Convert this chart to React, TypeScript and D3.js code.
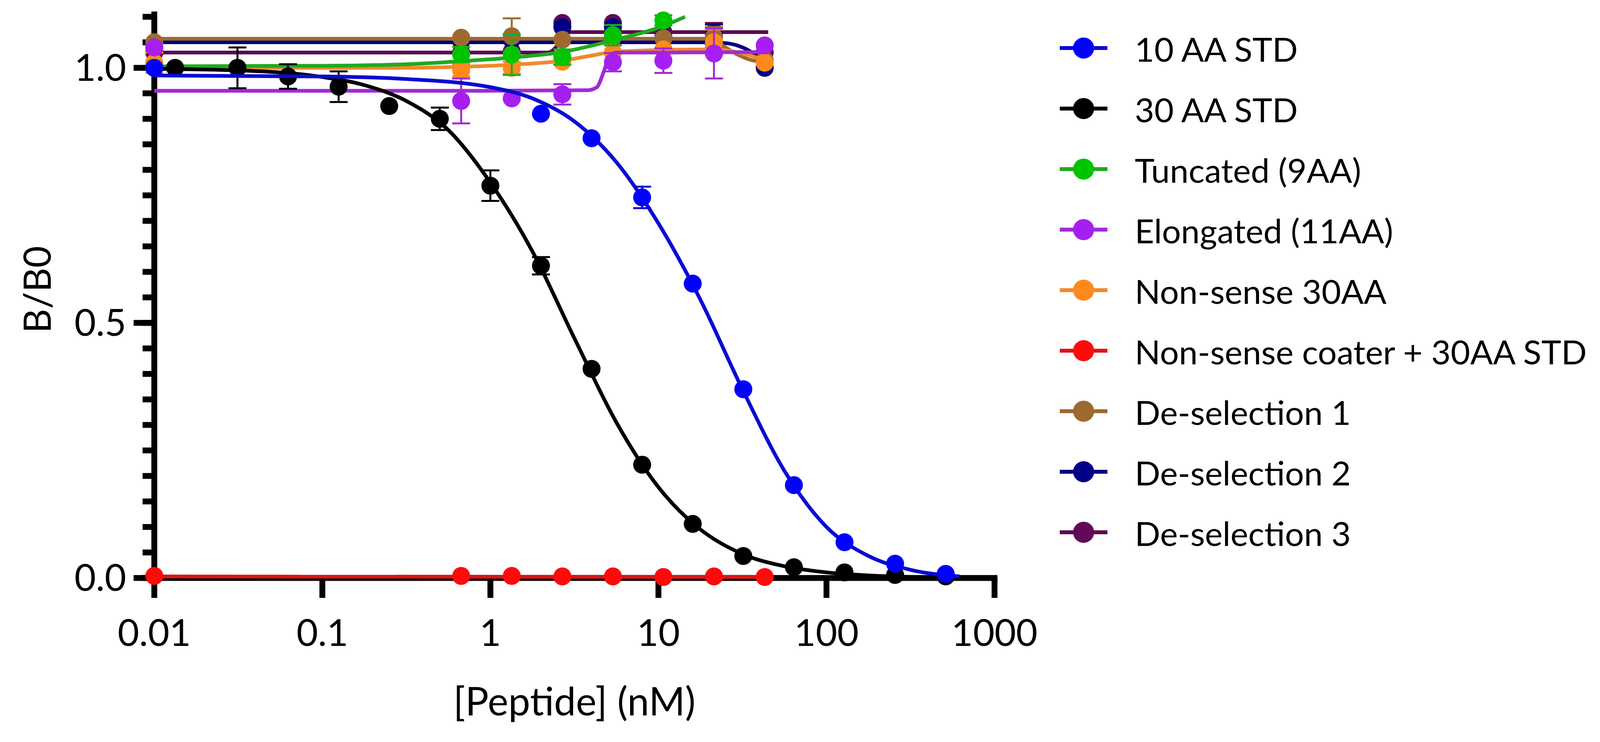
import React from "react";
import * as d3 from "d3";

// ---- data ----
const SERIES_NAMES = [
  "10 AA STD",
  "30 AA STD",
  "Tuncated (9AA)",
  "Elongated (11AA)",
  "Non-sense 30AA",
  "Non-sense coater + 30AA STD",
  "De-selection 1",
  "De-selection 2",
  "De-selection 3",
];
const MARKER_COLORS = ["#0000ff", "#000000", "#00c400", "#a61ff0", "#ff8a1c", "#ff0a0a", "#9c6a30", "#000085", "#620a58"];
const LINE_COLORS = ["#0a0ad2", "#000000", "#1faa1f", "#a12bd6", "#f08a2c", "#dc1414", "#9c6a30", "#00007a", "#5a0a50"];

const X_TICKS = [0.01, 0.1, 1, 10, 100, 1000];
const X_TICK_LABELS = ["0.01", "0.1", "1", "10", "100", "1000"];
const Y_TICKS = [0, 0.5, 1.0];
const Y_TICK_LABELS = ["0.0", "0.5", "1.0"];

// 10 AA STD
const STD10_X = [0.01, 2, 4, 8, 16, 32, 64, 128, 256, 512];
const STD10_Y = [1.0, 0.91, 0.862, 0.746, 0.577, 0.37, 0.182, 0.07, 0.028, 0.008];
const STD10_ERR = [0, 0, 0, 0.021, 0, 0, 0, 0, 0, 0];
const STD10_FIT_X = [0.01, 0.1, 0.316, 1, 1.78, 3.16, 5.62, 10, 17.8, 31.6, 56.2, 100, 178, 316, 620];
const STD10_FIT_Y = [0.985, 0.983, 0.978, 0.962, 0.94, 0.895, 0.815, 0.695, 0.545, 0.37, 0.21, 0.1, 0.043, 0.016, 0.003];

// 30 AA STD
const STD30_X = [0.0133, 0.03125, 0.0625, 0.125, 0.25, 0.5, 1, 2, 4, 8, 16, 32, 64, 128, 256, 512];
const STD30_Y = [1.0, 1.0, 0.983, 0.963, 0.925, 0.9, 0.769, 0.612, 0.41, 0.222, 0.106, 0.043, 0.021, 0.011, 0.006, 0.003];
const STD30_ERR = [0, 0.04, 0.024, 0.03, 0, 0.022, 0.03, 0.017, 0, 0, 0, 0, 0, 0, 0, 0];
const STD30_FIT_X = [0.01, 0.0316, 0.1, 0.178, 0.316, 0.562, 1, 1.78, 3.16, 5.62, 10, 17.8, 31.6, 56.2, 100, 178, 316, 512];
const STD30_FIT_Y = [0.998, 0.995, 0.982, 0.966, 0.935, 0.878, 0.775, 0.64, 0.47, 0.305, 0.178, 0.095, 0.047, 0.023, 0.011, 0.005, 0.002, 0.001];

// shared dilution series of the specificity samples
const PANEL_X = [0.01, 0.67, 1.34, 2.68, 5.36, 10.7, 21.4, 42.9];

const TRUNC_X = [0.01, 0.67, 1.34, 2.68, 5.36, 10.7];
const TRUNC_Y = [1.0, 1.026, 1.026, 1.021, 1.064, 1.093];
const TRUNC_ERR = [0, 0.015, 0.04, 0.015, 0.02, 0.01];
const TRUNC_FIT_X = [0.01, 0.1, 0.316, 0.67, 1.34, 2.68, 5.36, 10.7, 14.4];
const TRUNC_FIT_Y = [1.003, 1.004, 1.007, 1.013, 1.02, 1.031, 1.054, 1.082, 1.1];

const ELONG_Y = [1.04, 0.935, 0.94, 0.948, 1.011, 1.014, 1.028, 1.044];
const ELONG_ERR = [0, 0.044, 0, 0.02, 0.018, 0.024, 0.049, 0];
const ELONG_FIT_X = [0.01, 1, 3.8, 4.3, 4.7, 5.1, 5.6, 10.7, 42.9];
const ELONG_FIT_Y = [0.955, 0.955, 0.956, 0.962, 0.99, 1.022, 1.03, 1.03, 1.031];

const NONSENSE_Y = [1.01, 0.995, 1.0, 1.012, 1.03, 1.036, 1.05, 1.01];
const NONSENSE_ERR = [0.02, 0.012, 0.012, 0, 0, 0, 0.025, 0];
const NONSENSE_FIT_X = [0.01, 0.316, 0.67, 1.34, 2.68, 4, 5.36, 10.7, 21.4, 30, 42.9];
const NONSENSE_FIT_Y = [1.0, 1.0, 1.002, 1.006, 1.014, 1.024, 1.031, 1.035, 1.036, 1.03, 1.015];

const COATER_Y = [0.004, 0.004, 0.004, 0.003, 0.003, 0.002, 0.003, 0.002];
const COATER_ERR = [0, 0, 0, 0, 0, 0, 0, 0];
const COATER_FIT_X = [0.01, 42.9];
const COATER_FIT_Y = [0.003, 0.002];

const DESEL1_Y = [1.05, 1.059, 1.062, 1.055, 1.06, 1.058, 1.06, 1.015];
const DESEL1_ERR = [0, 0, 0.035, 0, 0, 0, 0.02, 0];
const DESEL1_FIT_X = [0.01, 19, 22, 25, 30, 37, 42.9];
const DESEL1_FIT_Y = [1.057, 1.057, 1.052, 1.04, 1.025, 1.014, 1.012];

const DESEL2_Y = [1.04, 1.052, 1.055, 1.08, 1.08, 1.06, 1.065, 1.0];
const DESEL2_ERR = [0, 0, 0, 0, 0, 0, 0.02, 0];
const DESEL2_FIT_X = [0.01, 20, 24, 30, 36, 42.9];
const DESEL2_FIT_Y = [1.05, 1.05, 1.049, 1.043, 1.03, 1.005];

const DESEL3_Y = [1.03, 1.03, 1.032, 1.088, 1.088, 1.07, 1.07, 1.03];
const DESEL3_ERR = [0, 0, 0, 0, 0, 0, 0.018, 0];
const DESEL3_FIT_X = [0.01, 2.2, 2.45, 2.7, 3.0, 45];
const DESEL3_FIT_Y = [1.03, 1.03, 1.04, 1.062, 1.07, 1.07];

type Pt = { x: number; y: number; err: number };

const zipPts = (xs: number[], ys: number[], errs: number[]): Pt[] =>
  ys.map((y, i) => ({ x: xs[i], y, err: errs[i] }));
const zipFit = (xs: number[], ys: number[]): [number, number][] => xs.map((x, i) => [x, ys[i]]);

const SERIES = [
  { points: zipPts(STD10_X, STD10_Y, STD10_ERR), fit: zipFit(STD10_FIT_X, STD10_FIT_Y) },
  { points: zipPts(STD30_X, STD30_Y, STD30_ERR), fit: zipFit(STD30_FIT_X, STD30_FIT_Y) },
  { points: zipPts(TRUNC_X, TRUNC_Y, TRUNC_ERR), fit: zipFit(TRUNC_FIT_X, TRUNC_FIT_Y) },
  { points: zipPts(PANEL_X, ELONG_Y, ELONG_ERR), fit: zipFit(ELONG_FIT_X, ELONG_FIT_Y) },
  { points: zipPts(PANEL_X, NONSENSE_Y, NONSENSE_ERR), fit: zipFit(NONSENSE_FIT_X, NONSENSE_FIT_Y) },
  { points: zipPts(PANEL_X, COATER_Y, COATER_ERR), fit: zipFit(COATER_FIT_X, COATER_FIT_Y) },
  { points: zipPts(PANEL_X, DESEL1_Y, DESEL1_ERR), fit: zipFit(DESEL1_FIT_X, DESEL1_FIT_Y) },
  { points: zipPts(PANEL_X, DESEL2_Y, DESEL2_ERR), fit: zipFit(DESEL2_FIT_X, DESEL2_FIT_Y) },
  { points: zipPts(PANEL_X, DESEL3_Y, DESEL3_ERR), fit: zipFit(DESEL3_FIT_X, DESEL3_FIT_Y) },
].map((s, i) => ({ ...s, name: SERIES_NAMES[i], color: MARKER_COLORS[i], lineColor: LINE_COLORS[i] }));

// ---- layout ----
const W = 4120;
const H = 1900;
const AXIS_W = 15;
const MARK_R = 23;
const CAP = 23;

export default function App() {
  const x = d3.scaleLog().domain([0.01, 1000]).range([395, 2546]);
  const y = d3.scaleLinear().domain([0, 1.1]).range([1480, 43]);
  const x0 = x.range()[0];
  const y0 = y.range()[0];

  const line = d3
    .line<[number, number]>()
    .x((d) => x(d[0]))
    .y((d) => y(d[1]))
    .curve(d3.curveMonotoneX);

  const minorY = y.ticks(22);

  const legendX = 2713;
  const legendY = 123;
  const legendStep = 155;

  return (
    <>
      <style>{`body{margin:0}`}</style>
      <svg width={W} height={H} style={{ display: "block", background: "#fff" }} fontFamily="Lato">
        {/* axes */}
        <g stroke="#000" strokeWidth={AXIS_W}>
          <line x1={x0} x2={x0} y1={y0} y2={y(1.1) - 6} strokeLinecap="square" />
          <line x1={x0} x2={x(1000)} y1={y0} y2={y0} strokeLinecap="square" />
          {minorY.map((t) => (
            <line key={"m" + t} x1={x0 - 30} x2={x0} y1={y(t)} y2={y(t)} />
          ))}
          {Y_TICKS.map((t) => (
            <line key={"y" + t} x1={x0 - 53} x2={x0} y1={y(t)} y2={y(t)} />
          ))}
          {X_TICKS.map((t) => (
            <line key={"x" + t} x1={x(t)} x2={x(t)} y1={y0} y2={y0 + 51} />
          ))}
        </g>
        <g fontSize={95} fill="#000">
          {Y_TICKS.map((t, i) => (
            <text key={t} x={323} y={y(t)} dy="0.35em" textAnchor="end">
              {Y_TICK_LABELS[i]}
            </text>
          ))}
          {X_TICKS.map((t, i) => (
            <text key={t} x={x(t)} y={1654} textAnchor="middle">
              {X_TICK_LABELS[i]}
            </text>
          ))}
        </g>
        <text x={(x0 + x(1000)) / 2} y={1832} fontSize={100} textAnchor="middle">
          [Peptide] (nM)
        </text>
        <text
          transform={`translate(130, ${(y(0) + y(1.1)) / 2 - 20}) rotate(-90)`}
          fontSize={96}
          textAnchor="middle"
        >
          B/B0
        </text>

        {/* data: first data set ends up on top */}
        {SERIES.slice()
          .reverse()
          .map((s) => (
            <g key={s.name}>
              <path d={line(s.fit) || ""} fill="none" stroke={s.lineColor} strokeWidth={9.5} />
              <g stroke={s.lineColor} strokeWidth={5}>
                {s.points
                  .filter((p) => p.err > 0)
                  .map((p, j) => (
                    <g key={j}>
                      <line x1={x(p.x)} x2={x(p.x)} y1={y(p.y - p.err)} y2={y(p.y + p.err)} />
                      <line x1={x(p.x) - CAP} x2={x(p.x) + CAP} y1={y(p.y - p.err)} y2={y(p.y - p.err)} />
                      <line x1={x(p.x) - CAP} x2={x(p.x) + CAP} y1={y(p.y + p.err)} y2={y(p.y + p.err)} />
                    </g>
                  ))}
              </g>
              {s.points.map((p, j) => (
                <circle key={j} cx={x(p.x)} cy={y(p.y)} r={MARK_R} fill={s.color} />
              ))}
            </g>
          ))}

        {/* legend */}
        <g>
          {SERIES.map((s, i) => {
            const ly = legendY + i * legendStep;
            return (
              <g key={s.name}>
                <line x1={legendX} x2={legendX + 122} y1={ly} y2={ly} stroke={s.lineColor} strokeWidth={10} />
                <circle cx={legendX + 61} cy={ly} r={27} fill={s.color} />
                <text x={2905} y={ly + 35} fontSize={86} fill="#000">
                  {s.name}
                </text>
              </g>
            );
          })}
        </g>
      </svg>
    </>
  );
}
